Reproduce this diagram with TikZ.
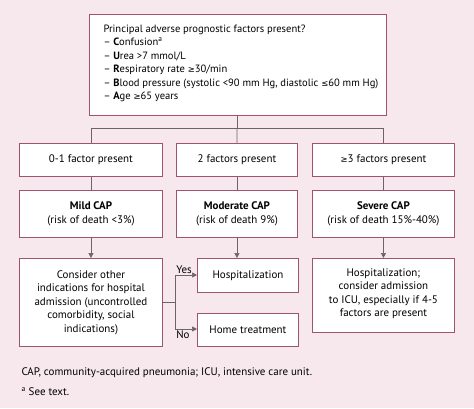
\documentclass[tikz,border=0pt]{standalone}
\usepackage{fontspec}
\setmainfont{PT Sans}
\newfontfamily\symfont{DejaVu Sans}
\newcommand{\gesym}{{\symfont\fontsize{8.5}{8.5}\selectfont ≥}}
\newcommand{\lesym}{{\symfont\fontsize{8.5}{8.5}\selectfont ≤}}
\usetikzlibrary{arrows.meta}
\definecolor{bgpink}{HTML}{F7E8EE}
\definecolor{boxline}{HTML}{A05272}
\definecolor{conn}{HTML}{6E6468}
\tikzset{
  box/.style={draw=boxline, line width=0.9bp, fill=white, inner sep=0pt},
  conline/.style={draw=conn, line width=0.7bp},
  arr/.style={conline, -{Triangle[length=5bp,width=5bp]}},
  txt/.style={font=\fontsize{11}{13.6}\selectfont, align=center, text=black},
  toptxt/.style={font=\fontsize{10.6}{13.6}\selectfont, align=left, text=black},
}
\begin{document}
\begin{tikzpicture}[x=1bp,y=-1bp]
\fill[bgpink] (0,0) rectangle (474,408);
\useasboundingbox (0,0) rectangle (474,408);
% top box
\node[box, minimum width=297bp, minimum height=101bp, anchor=north west] (top) at (89,14) {};
\node[toptxt, anchor=north west] (toptext) at (100,21) {Principal adverse prognostic factors present?\\
-- \textbf{C}onfusion\textsuperscript{a}\\
-- \textbf{U}rea >7 mmol/L\\
-- \textbf{R}espiratory rate \gesym30/min\\
-- \textbf{B}lood pressure (systolic <90 mm Hg, diastolic \lesym60 mm Hg)\\
-- \textbf{A}ge \gesym65 years};
% row 1
\node[box, minimum width=143bp, minimum height=33bp, anchor=north west] (f1) at (19,143) {};
\node[box, minimum width=121bp, minimum height=33bp, anchor=north west] (f2) at (176,143) {};
\node[box, minimum width=142bp, minimum height=33bp, anchor=north west] (f3) at (312,143) {};
\node[txt] at (f1.center) {0-1 factor present};
\node[txt] at (f2.center) {2 factors present};
\node[txt] at (f3.center) {\gesym3 factors present};
% row 2
\node[box, minimum width=143bp, minimum height=47bp, anchor=north west] (c1) at (19,190) {};
\node[box, minimum width=121bp, minimum height=47bp, anchor=north west] (c2) at (176,190) {};
\node[box, minimum width=142bp, minimum height=47bp, anchor=north west] (c3) at (312,190) {};
\node[txt] at (c1.center) {\textbf{Mild CAP}\\(risk of death <3\%)};
\node[txt] at (c2.center) {\textbf{Moderate CAP}\\(risk of death 9\%)};
\node[txt] at (c3.center) {\textbf{Severe CAP}\\(risk of death 15\%-40\%)};
% row 3
\node[box, minimum width=143bp, minimum height=88bp, anchor=north west] (d1) at (19,258) {};
\node[box, minimum width=101bp, minimum height=34bp, anchor=north west] (hosp) at (197,258) {};
\node[box, minimum width=101bp, minimum height=33bp, anchor=north west] (home) at (197,313) {};
\node[box, minimum width=142bp, minimum height=74bp, anchor=north west] (d3) at (312,258) {};
\node[txt] at (d1.center) {Consider other\\indications for hospital\\admission (uncontrolled\\comorbidity, social\\indications)};
\node[txt] at (hosp.center) {Hospitalization};
\node[txt] at (home.center) {Home treatment};
\node[txt, anchor=north] at ([yshift=-7bp]d3.north) {Hospitalization;\\consider admission\\to ICU, especially if 4-5\\factors are present};
% connectors
\coordinate (split) at (237,128);
\draw[conline] (top.south -| split) -- (split);
\draw[conline] (f1.north |- split) -- (f3.north |- split);
\draw[conline] (f1.north |- split) -- (f1.north);
\draw[conline] (split) -- (f2.north);
\draw[conline] (f3.north |- split) -- (f3.north);
\draw[conline] (f1) -- (c1);
\draw[conline] (f2) -- (c2);
\draw[conline] (f3) -- (c3);
\draw[arr] (c1.south) -- (d1.north);
\draw[arr] (c2.south) -- (c2.south |- hosp.north);
\draw[arr] (c3.south) -- (d3.north);
\coordinate (br) at (175,302);
\draw[conline] (d1.east |- br) -- (br);
\draw[arr] (br) |- (hosp.west |- 0,275) node[txt, pos=0.5, anchor=south west, inner sep=1bp] (yes) {Yes};
\draw[arr] (br) |- (home.west |- 0,329) node[txt, pos=0.5, anchor=north west, inner sep=1bp] (no) {No};
% footnotes
\node[txt, anchor=west] (fn1) at (18,373) {CAP, community-acquired pneumonia; ICU, intensive care unit.};
\node[txt, anchor=west] (fn2) at (18,392) {\textsuperscript{a} See text.};
\end{tikzpicture}
\end{document}
